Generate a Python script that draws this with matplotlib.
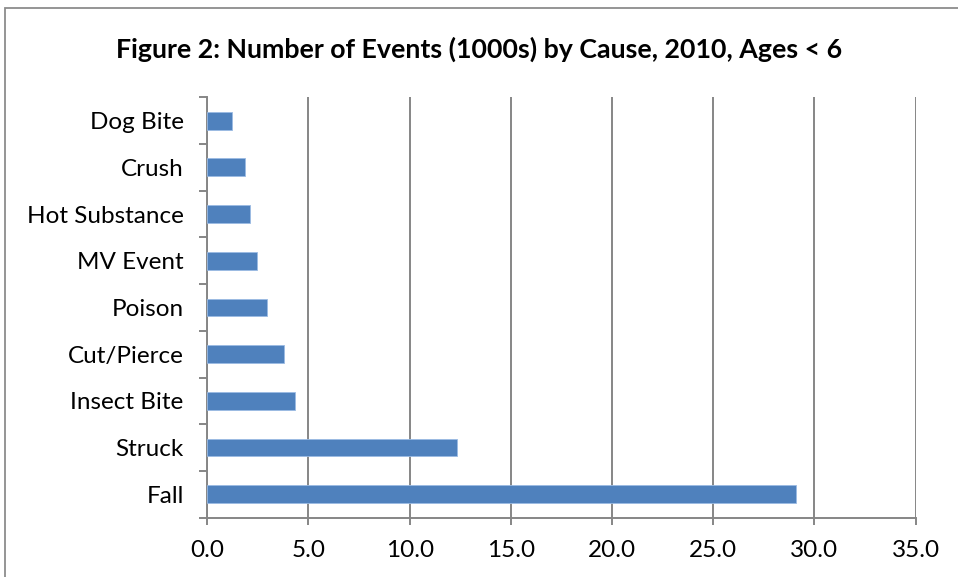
import numpy as np
import matplotlib
matplotlib.use('Agg')
import matplotlib.pyplot as plt
from matplotlib.patches import Rectangle

plt.rcParams['font.family'] = ['Lato', 'DejaVu Sans']

# Events in thousands, listed from bottom of the chart to the top
causes = ['Fall', 'Struck', 'Insect Bite', 'Cut/Pierce', 'Poison',
          'MV Event', 'Hot Substance', 'Crush', 'Dog Bite']
events = [29.1, 12.35, 4.35, 3.77, 2.96, 2.47, 2.11, 1.85, 1.22]
xticks = [0, 5, 10, 15, 20, 25, 30, 35]

title = 'Figure 2: Number of Events (1000s) by Cause, 2010, Ages < 6'

bar_color = '#4F81BD'
grid_color = '#868686'

fig = plt.figure(figsize=(9.58, 5.77), dpi=100)
fig.patch.set_facecolor('white')

# chart frame, running off the right and bottom edges
fig.patches.append(Rectangle((5 / 958, -0.1), 1.2, 1 - 8 / 577 + 0.1,
                             transform=fig.transFigure, fill=False,
                             edgecolor='#8c8c8c', lw=1.3, zorder=0))

ax = fig.add_axes((0.2164, 0.1028, 0.7393, 0.7286))
y = np.arange(len(causes))
ax.barh(y, events, height=0.38, color=bar_color,
        edgecolor='#9bbbe3', linewidth=0.6, zorder=3)

ax.set_xlim(0, 35)
ax.set_ylim(-0.5, len(causes) - 0.5)
ax.set_xticks(xticks)
ax.set_xticklabels(['{:.1f}'.format(v) for v in xticks])
ax.set_yticks(y)
ax.set_yticklabels(causes)
ax.set_yticks(np.arange(-0.5, len(causes)), minor=True)

ax.grid(axis='x', color=grid_color, lw=1.4, zorder=0)
for s in ['top', 'right']:
    ax.spines[s].set_visible(False)
for s in ['left', 'bottom']:
    ax.spines[s].set_color(grid_color)
    ax.spines[s].set_linewidth(1.4)

ax.tick_params(axis='y', which='major', length=0, pad=17, labelsize=17.5)
ax.tick_params(axis='y', which='minor', length=5.5, width=1.4,
               color=grid_color, direction='out')
ax.tick_params(axis='x', which='major', length=5, width=1.4,
               color=grid_color, direction='out', pad=11, labelsize=17.5)

fig.text(0.5, 1 - 49 / 577, title, ha='center', va='center',
         fontsize=19.3, fontweight='bold')

fig.savefig('out.png', dpi=100)
